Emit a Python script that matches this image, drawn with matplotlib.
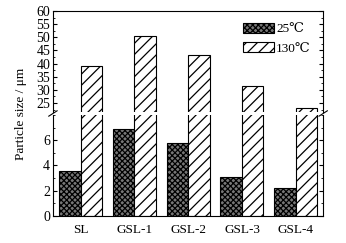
import numpy as np
import matplotlib
matplotlib.use("Agg")
from matplotlib import pyplot as plt
from matplotlib.ticker import MultipleLocator

plt.rcParams['font.family'] = ['Liberation Serif', 'DejaVu Serif']
plt.rcParams['font.size'] = 9
plt.rcParams['hatch.linewidth'] = 0.9

# data
samples = ['SL', 'GSL-1', 'GSL-2', 'GSL-3', 'GSL-4']
size_25 = [3.55, 6.85, 5.75, 3.05, 2.2]
size_130 = [39.0, 50.3, 43.2, 31.5, 23.3]
series_labels = ['25\u2103', '130\u2103']

x = np.arange(len(samples))
w = 0.40

fig = plt.figure(figsize=(3.46, 2.43), dpi=100)
ax1 = fig.add_axes([0.153, 0.539, 0.781, 0.416])
ax2 = fig.add_axes([0.153, 0.111, 0.781, 0.416])

for ax in (ax1, ax2):
    b1 = ax.bar(x - w / 2, size_25, w, facecolor='#777777', edgecolor='black',
                hatch='xxxxxx', linewidth=0.8, label=series_labels[0])
    b2 = ax.bar(x + w / 2, size_130, w, facecolor='white', edgecolor='black',
                hatch='///', linewidth=0.8, label=series_labels[1])
    ax.set_xlim(-0.516, 4.51)
    ax.tick_params(axis='y', which='both', direction='in', right=True, labelsize=10, pad=2)
    ax.tick_params(axis='y', which='major', length=3)
    ax.tick_params(axis='y', which='minor', length=1.5)

ax1.set_ylim(21.6, 60)
ax1.yaxis.set_minor_locator(MultipleLocator(2.5))
ax1.set_yticks([25, 30, 35, 40, 45, 50, 55, 60])
ax1.spines['bottom'].set_visible(False)
ax1.tick_params(axis='x', which='both', bottom=False, labelbottom=False)

ax2.set_ylim(0, 8)
ax2.set_yticks([0, 2, 4, 6])
ax2.yaxis.set_minor_locator(MultipleLocator(1))
ax2.spines['top'].set_visible(False)
ax2.set_xticks(x)
ax2.set_xticklabels(samples, fontsize=9.5)
ax2.tick_params(axis='x', length=0, pad=6)

# break marks on the spines
d = 0.012
kw = dict(color='black', clip_on=False, linewidth=0.8)
for xs in (0, 1):
    fig.lines.append(plt.Line2D([0.153 + 0.781 * xs - d, 0.153 + 0.781 * xs + d],
                                [0.522, 0.544], transform=fig.transFigure, **kw))

fig.text(0.06, 0.53, 'Particle size / \u03bcm', rotation=90, va='center', ha='center', fontsize=9.5)

ax1.legend(loc='upper left', bbox_to_anchor=(0.66, 1.0), frameon=False,
           handlelength=2.3, handleheight=0.8, handletextpad=0.2,
           labelspacing=0.5, fontsize=9.5)

fig.savefig('out.png', dpi=100)
